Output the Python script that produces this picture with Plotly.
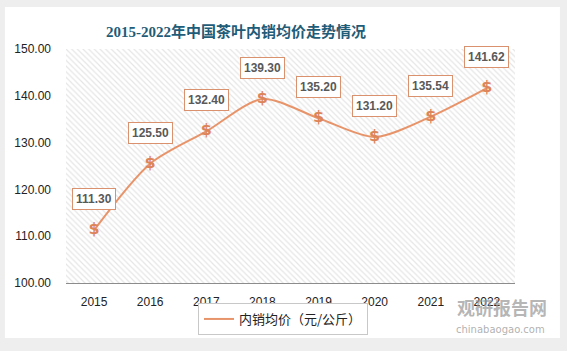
import plotly.graph_objects as go

years = ["2015", "2016", "2017", "2018", "2019", "2020", "2021", "2022"]
prices = [111.30, 125.50, 132.40, 139.30, 135.20, 131.20, 135.54, 141.62]
y_ticks = [100, 110, 120, 130, 140, 150]
title = "2015-2022年中国茶叶内销均价走势情况"
series_name = "内销均价（元/公斤）"

line_color = "#E8946A"

fig = go.Figure()

# hatched plot background
fig.add_trace(go.Bar(
    x=years, y=[y_ticks[-1] - y_ticks[0]] * len(years), base=y_ticks[0],
    width=1, showlegend=False, hoverinfo="skip",
    marker=dict(color="white", line=dict(width=0),
                pattern=dict(shape="\\", fgcolor="#cccccc", bgcolor="white",
                             size=4, solidity=0.3)),
))

fig.add_trace(go.Scatter(
    x=years, y=prices, name=series_name,
    mode="lines+text", text=["<b>$</b>"] * len(years), textposition="middle center",
    textfont=dict(family="DejaVu Sans", size=16, color="#DD8459"),
    line=dict(color=line_color, width=2, shape="spline", smoothing=0.8),
))

for i, v in enumerate(prices):
    fig.add_annotation(
        x=i, y=v, text="<b>%.2f</b>" % v, showarrow=False, yshift=31,
        xanchor="center", yanchor="middle",
        font=dict(family="Liberation Sans", size=12, color="#595959"),
        bgcolor="white", bordercolor="#D9916E", borderwidth=1, borderpad=3,
    )

# card and background
fig.add_shape(type="rect", xref="paper", yref="paper",
              x0=-0.136, x1=1.100, y0=-0.235, y1=1.179,
              fillcolor="white", line=dict(width=0), layer="below")

fig.add_annotation(
    xref="paper", yref="paper", x=(236 - 66) / 449, y=(283 - 31) / 234,
    xanchor="center", yanchor="middle",
    text="<b>" + title + "</b>", showarrow=False,
    font=dict(family="Liberation Serif, Noto Sans CJK SC", size=15, color="#1F5C78"),
)

# watermark
fig.add_annotation(
    xref="paper", yref="paper", x=(502 - 66) / 449, y=(283 - 307) / 234,
    xanchor="center", yanchor="middle",
    text="<b>观研报告网</b>", showarrow=False,
    font=dict(family="Noto Sans CJK SC", size=18, color="rgba(150,150,150,0.7)"),
)
fig.add_annotation(
    xref="paper", yref="paper", x=(500 - 66) / 449, y=(283 - 329) / 234,
    xanchor="center", yanchor="middle",
    text="chinabaogao.com", showarrow=False,
    font=dict(family="DejaVu Sans", size=10, color="rgba(150,150,150,0.75)"),
)

fig.update_layout(
    width=567, height=351,
    margin=dict(l=66, r=52, t=49, b=68),
    paper_bgcolor="#eeeeee", plot_bgcolor="white",
    showlegend=True,
    legend=dict(orientation="h", x=(283 - 66) / 449, xanchor="center",
                y=(283 - 319) / 234, yanchor="middle",
                bordercolor="#c8c8c8", borderwidth=1, bgcolor="white",
                font=dict(family="Noto Sans CJK SC", size=13, color="#222222")),
    xaxis=dict(type="category", showgrid=False, ticks="", showline=True,
               linecolor="#8c8c8c", linewidth=1,
               tickfont=dict(family="Liberation Sans", size=12, color="#222222"),
               ticklabelstandoff=8, range=[-0.5, 7.5]),
    yaxis=dict(range=[100, 150], tickvals=y_ticks, tickformat=".2f",
               showgrid=False, zeroline=False, ticks="", showline=False,
               tickfont=dict(family="Liberation Sans", size=12, color="#222222"),
               ticklabelstandoff=14),
    bargap=0,
)

fig.write_html("out.html")
